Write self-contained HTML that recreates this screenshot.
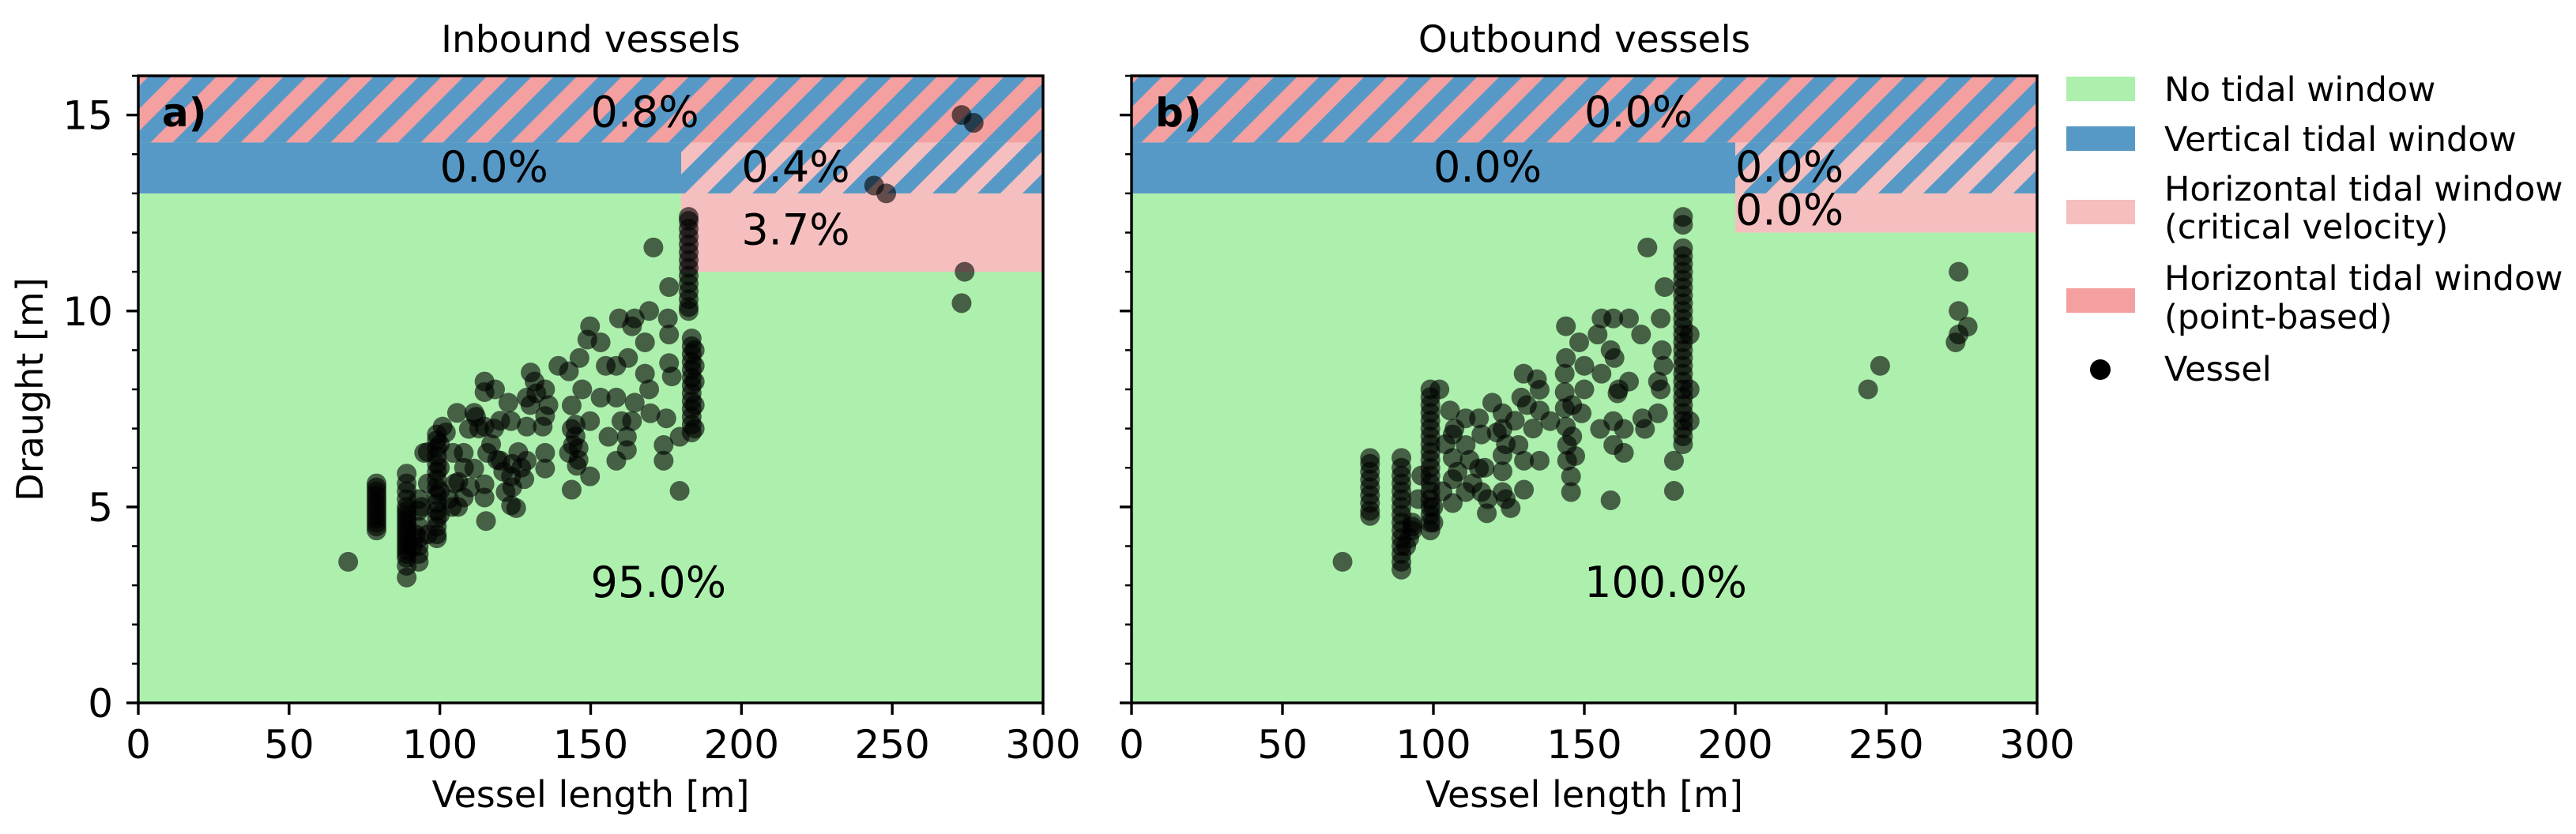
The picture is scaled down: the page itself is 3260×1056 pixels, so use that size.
<!DOCTYPE html>
<html><head><meta charset="utf-8">
<style>
html,body{margin:0;padding:0;background:#fff;}
svg{display:block;font-family:"DejaVu Sans","Liberation Sans",sans-serif;}
</style></head>
<body>
<svg id="fig" width="3260" height="1056" viewBox="0 0 3260 1056" xmlns="http://www.w3.org/2000/svg">
<defs>
<pattern id="hatchPoint" patternUnits="userSpaceOnUse" width="40.3" height="40.3" patternTransform="rotate(45)">
<rect x="0" y="0" width="40.3" height="40.3" fill="#f4a0a0"/>
<rect x="0" y="0" width="20.5" height="40.3" fill="#5799c6"/>
</pattern>
<pattern id="hatchCrit" patternUnits="userSpaceOnUse" width="40.3" height="40.3" patternTransform="rotate(45)">
<rect x="0" y="0" width="40.3" height="40.3" fill="#f5bfbf"/>
<rect x="0" y="0" width="20.5" height="40.3" fill="#5799c6"/>
</pattern>
</defs>
<g id="root"></g>
</svg>
<script>
// ---- data ----
const xTicks = [0, 50, 100, 150, 200, 250, 300];
const yTicks = [0, 5, 10, 15];
const yMinor = [1,2,3,4,6,7,8,9,11,12,13,14,16];

const inLen = [79,79,79,79,79,79,79,79,79,79,79,79,79,
 89,89,89,89,89,89,89,89,89,89,89,89,89,89,89,89,89,89,89,89,
 93,93,93,93,93,93,93,
 99,99,99,99,99,99,99,99,99,99,99,99,99,99,99,
 100,100,100,100, 96,96,96,
 69.6,94.8,100.9,105.7,111.4,114.8,114.8,118.3,109.6,114.8,115.7,107.9,104.4,106.1,107.9,114.8,114.8,115.3,111.4,120.1,121.8,123.6,123.6,125.3,123.6,122.7,128.8,128,128.8,130.1,131.4,128.8,134.9,134.9,134.9,134.9,134.1,139.3,142.8,146.3,143.7,147.2,143.7,144.1,142.8,145.4,149.8,143.7,149.8,148.9,149.8,153.3,153.3,155,155.9,158.5,158.5,162,162,160.2,163.7,159.4,163.7,164.6,162.4,158.5,168,169.4,168,169.4,169.8,164.6,170.8,176,175.6,176,176,176.9,174.2,174.2,179.5,179.5,175.1,
 103,105,108,110,112,113,117,120,121,124,124,126,127,130,132,136,145,145,146,146,102,104,106,118,119,94,92,91,
 182.5,182.5,182.5,182.5,182.5,182.5,182.5,182.5,182.5,182.5,182.5,182.5,182.5,182.5,
 183.5,183.5,183.5,183.5,183.5,183.5,183.5,183.5,183.5,183.5,183.5,183.5,183.5,
 184.5,184.5,184.5,184.5,184.5,
 273,277,244,248,274,273];
const inDr = [4.4,4.5,4.6,4.7,4.8,4.9,5.0,5.1,5.2,5.3,5.4,5.5,5.6,
 5.85,5.6,5.4,5.2,5.0,4.9,4.8,4.7,4.6,4.5,4.4,4.3,4.2,4.1,4.0,3.9,3.8,3.7,3.5,3.2,
 5.2,4.9,4.5,4.2,4.0,3.8,3.6,
 6.85,6.7,6.5,6.3,6.1,5.9,5.7,5.5,5.3,5.1,4.9,4.7,4.5,4.3,4.2,
 6.6,6.0,5.4,4.8, 6.4,5.6,4.3,
 3.6,6.38,7.05,7.4,7.4,8.2,7.93,8.0,6.99,7.05,6.38,6.38,6.38,5.64,5.24,5.58,5.24,4.64,5.98,6.18,5.38,5.78,5.04,4.97,7.19,7.66,6.18,5.71,7.05,8.43,8.2,7.79,8.0,7.32,6.38,5.98,7.05,8.6,8.46,8.8,7.59,8.0,6.99,6.58,6.38,6.05,5.78,5.44,7.19,9.27,9.61,9.2,7.79,8.6,6.79,7.79,6.18,6.45,6.79,7.19,7.19,9.81,9.61,9.81,8.8,8.6,9.2,10.0,8.4,8.0,7.39,7.66,11.62,10.61,9.81,9.4,8.67,8.33,6.58,6.18,6.79,5.41,7.26,
 5.2,5.6,6.0,5.5,7.3,7.0,6.6,7.2,5.9,5.5,6.1,6.4,6.0,7.6,7.9,7.6,6.8,7.1,6.5,6.2,6.9,5.0,5.0,7.0,6.2,5.0,4.3,4.0,
 12.4,12.3,12.1,11.9,11.7,11.5,11.3,11.1,10.9,10.7,10.5,10.3,10.1,10.0,
 9.3,9.1,8.9,8.7,8.5,8.3,8.1,7.9,7.7,7.5,7.3,7.1,6.9,
 9.0,8.6,8.2,7.6,7.0,
 15.0,14.8,13.2,13.0,11.0,10.2];

// outbound vessels as [length, draught] pairs
const outPoints = [
 [79,6.25],[79,6.1],[79,5.9],[79,5.7],[79,5.5],[79,5.3],[79,5.1],[79,4.9],[79,4.77],
 [89.4,6.25],[89.4,6.0],[89.4,5.8],[89.4,5.6],[89.4,5.4],[89.4,5.2],[89.4,5.0],[89.4,4.8],[89.4,4.6],[89.4,4.4],[89.4,4.2],[89.4,4.0],[89.4,3.8],[89.4,3.6],[89.4,3.4],
 [93,4.6],[93,4.5],[93,4.4],[92,4.2],[91,4.0],
 [99,8.0],[99,7.8],[99,7.6],[99,7.4],[99,7.2],[99,7.0],[99,6.8],[99,6.6],[99,6.4],[99,6.2],[99,6.0],[99,5.8],[99,5.6],[99,5.4],[99,5.2],[99,5.0],[99,4.8],[99,4.6],[99,4.4],[100,5.0],[100,4.6],
 [95,5.2],[96,5.8],[103,5.4],[104,6.6],[107,7.0],[108,5.9],[112,6.2],[113,5.6],[117,6.0],[118,5.2],[121,6.9],[124,6.6],[124,5.2],[127,7.2],[131,7.6],[133,7.0],[146,7.6],[146,6.8],[147,6.3],[160,8.8],[161,7.9],
 [69.9,3.6],[102,8.0],[105.5,7.46],[106.4,6.85],[106.4,6.25],[106.4,5.71],[106.4,5.1],[110.7,7.26],[110.7,6.58],[110.7,5.38],[115.1,7.26],[115.9,6.85],[115.1,5.98],[115.9,5.38],[117.7,4.84],[119.5,7.66],[122.9,7.39],[122.9,6.99],[122.9,6.32],[122.9,5.91],[122.9,5.38],[125.6,4.97],[128.2,6.58],[130,6.18],[130,5.44],[129.9,8.4],[129.1,7.79],[134.3,8.26],[135.2,7.99],[135.2,7.46],[135.2,6.18],[138.7,7.19],[143.9,9.61],[148.3,9.2],[143.9,8.8],[143.5,8.4],[143.5,7.93],[143.5,7.52],[143.9,7.05],[144.3,6.58],[144.3,6.18],[145.6,5.78],[145.6,5.38],[150,8.6],[150,8.0],[149.1,7.39],[154.4,9.4],[155.7,9.81],[158.7,9.0],[155.7,8.4],[155.2,6.99],[159.6,6.58],[163.1,6.38],[158.7,5.17],[159.6,9.81],[164.8,9.81],[161.4,8.0],[164.8,8.2],[159.6,7.19],[163.1,6.99],[170.1,6.99],[169.2,7.26],[168.8,9.4],[170.9,11.62],[175.3,9.81],[175.7,9.0],[176.2,8.6],[174.4,8.2],[175.3,8.0],[174.4,7.39],[176.6,10.61],[179.7,6.18],[179.7,5.41],
 [182.7,12.4],[182.7,12.2],[182.7,11.6],[182.7,11.4],[182.7,11.2],[182.7,11.0],[182.7,10.8],[182.7,10.6],[182.7,10.4],[182.7,10.2],[182.7,10.0],[182.7,9.8],[182.7,9.6],[182.7,9.4],[182.7,9.2],[182.7,9.0],[182.7,8.8],[182.7,8.6],[182.7,8.4],[182.7,8.2],[182.7,8.0],[182.7,7.8],[182.7,7.6],[182.7,7.4],[182.7,7.2],[182.7,7.0],[182.7,6.8],[182.7,6.6],
 [184.9,9.4],[184.9,8.0],[184.9,7.19],
 [244,8.0],[248,8.6],[274,11.0],[274,10.0],[274,9.4],[277,9.6],[273,9.2]
];
const outLen = outPoints.map(p => p[0]);
const outDr = outPoints.map(p => p[1]);

// region thresholds
const inSplit = 180, outSplit = 200;
const inCritBottom = 11, outCritBottom = 12;
const vertBottom = 13, hatchBottom = 14.3, yMax = 16, xMax = 300;
const inLabels = ["0.8%", "0.0%", "0.4%", "3.7%", "95.0%"];
const outLabels = ["0.0%", "0.0%", "0.0%", "0.0%", "100.0%"];

// ---- drawing ----
const NS = "http://www.w3.org/2000/svg";
const root = document.getElementById("root");
function mk(tag, attrs, parent) {
  const e = document.createElementNS(NS, tag);
  for (const k in attrs) e.setAttribute(k, attrs[k]);
  (parent || root).appendChild(e);
  return e;
}
const T = 96, B = 890;

function panel(L, R, lens, drs, split, critBottom, labels, tag, title, showY) {
  const g = mk("g", {});
  
  
  const sx = v => L + v / xMax * (R - L);
  const sy = v => B - v / yMax * (B - T);
  const green = mk("rect", {x: sx(0), y: sy(yMax), width: sx(xMax) - sx(0), height: sy(0) - sy(yMax), fill: "#adf0ad"}, g);
  
  
  const crit = mk("rect", {x: sx(split), y: sy(vertBottom), width: sx(xMax) - sx(split), height: sy(critBottom) - sy(vertBottom), fill: "#f5bfbf"}, g);
  
  
  const vert = mk("rect", {x: sx(0), y: sy(hatchBottom), width: sx(split) - sx(0), height: sy(vertBottom) - sy(hatchBottom), fill: "#5799c6"}, g);
  
  
  const hc = mk("rect", {x: sx(split), y: sy(hatchBottom), width: sx(xMax) - sx(split), height: sy(vertBottom) - sy(hatchBottom), fill: "url(#hatchCrit)"}, g);
  
  
  const hp = mk("rect", {x: sx(0), y: sy(yMax), width: sx(xMax) - sx(0), height: sy(hatchBottom) - sy(yMax), fill: "url(#hatchPoint)"}, g);
  
  
  const n = Math.min(lens.length, drs.length);
  for (let i = 0; i < n; i++) {
    const c = mk("circle", {cx: sx(lens[i]), cy: sy(drs[i]), r: 12.5, fill: "#000", "fill-opacity": 0.6}, g);
    
    
  }
  const lp = [[150, 14.7], [100, 13.3], [200, 13.3], [200, tag === "a" ? 11.7 : 12.2], [150, 2.7]];
  const lnames = ['pct-point-based', 'pct-vertical', 'pct-combined', 'pct-critical', 'pct-no-window'];
  for (let i = 0; i < labels.length; i++) {
    const t = mk("text", {x: sx(lp[i][0]), y: sy(lp[i][1]), "font-size": 54, fill: "#000"}, g);
    t.textContent = labels[i];
    
    
  }
  const pl = mk("text", {x: L + 30, y: 160, "font-size": 50, "font-weight": "bold"}, g);
  pl.textContent = tag + ")";
  
  
  const fr = mk("rect", {x: L, y: T, width: R - L, height: B - T, fill: "none", stroke: "#000", "stroke-width": 3.4}, g);
  
  
  for (const v of xTicks) {
    const tk = mk("line", {x1: sx(v), x2: sx(v), y1: B, y2: B + 15, stroke: "#000", "stroke-width": 3.4}, g);
    
    
    const tl = mk("text", {x: sx(v), y: B + 70, "font-size": 50, "text-anchor": "middle"}, g);
    tl.textContent = v;
    
    
  }
  for (const v of yTicks) {
    const tk = mk("line", {x1: L - 15, x2: L, y1: sy(v), y2: sy(v), stroke: "#000", "stroke-width": 3.4}, g);
    
    
    if (showY) {
      const tl = mk("text", {x: L - 32, y: sy(v) + 18, "font-size": 50, "text-anchor": "end"}, g);
      tl.textContent = v;
      
      
    }
  }
  for (const v of yMinor) {
    const tk = mk("line", {x1: L - 8, x2: L, y1: sy(v), y2: sy(v), stroke: "#000", "stroke-width": 2.5}, g);
    
    
  }
  const ti = mk("text", {x: (L + R) / 2, y: 66, "font-size": 47, "text-anchor": "middle"}, g);
  ti.textContent = title;
  
  
  const xl = mk("text", {x: (L + R) / 2, y: 1022, "font-size": 46, "text-anchor": "middle"}, g);
  xl.textContent = "Vessel length [m]";
  
  
  if (showY) {
    const yl = mk("text", {x: 0, y: 0, "font-size": 46, "text-anchor": "middle", transform: "translate(54," + ((T + B) / 2) + ") rotate(-90)"}, g);
    yl.textContent = "Draught [m]";
    
    
  }
}
panel(175, 1320, inLen, inDr, inSplit, inCritBottom, inLabels, "a", "Inbound vessels", true);
panel(1432, 2578, outLen, outDr, outSplit, outCritBottom, outLabels, "b", "Outbound vessels", false);

const lg = mk("g", {});


const entries = [
  {c: "#adf0ad", y: 97, lines: ["No tidal window"], base: [128]},
  {c: "#5799c6", y: 160, lines: ["Vertical tidal window"], base: [191]},
  {c: "#f5bfbf", y: 253, lines: ["Horizontal tidal window", "(critical velocity)"], base: [254, 302]},
  {c: "#f4a0a0", y: 365, lines: ["Horizontal tidal window", "(point-based)"], base: [367, 416]}
];
for (const e of entries) {
  const r = mk("rect", {x: 2615, y: e.y, width: 87, height: 31, fill: e.c}, lg);
  
  
  e.lines.forEach((s, i) => {
    const t = mk("text", {x: 2739, y: e.base[i], "font-size": 43}, lg);
    t.textContent = s;
    
    
  });
}
const vm = mk("circle", {cx: 2658, cy: 468, r: 13, fill: "#000"}, lg);


const vt = mk("text", {x: 2739, y: 482, "font-size": 43}, lg);
vt.textContent = "Vessel";


</script>
</body></html>
